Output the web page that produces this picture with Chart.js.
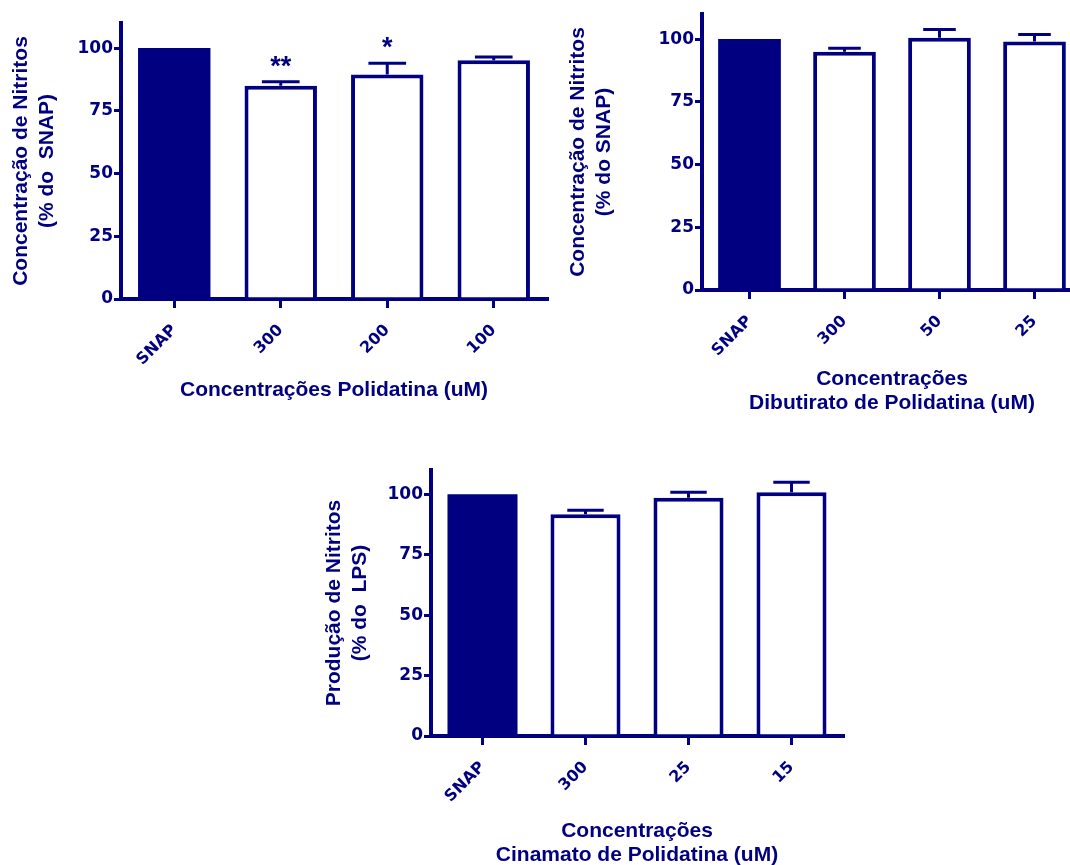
<!DOCTYPE html>
<html>
<head>
<meta charset="utf-8">
<script src="https://cdn.jsdelivr.net/npm/chart.js@4/dist/chart.umd.min.js"></script>
<style>
  html, body { margin: 0; padding: 0; background: #fff; }
  body { width: 1070px; height: 865px; position: relative; overflow: hidden; }
  canvas { position: absolute; }
  #c1 { left: 0; top: 0; }
  #c2 { left: 560px; top: 0; }
  #c3 { left: 300px; top: 440px; }
</style>
</head>
<body>
<canvas id="c1" width="560" height="420"></canvas>
<canvas id="c2" width="530" height="420"></canvas>
<canvas id="c3" width="560" height="430"></canvas>
<script>
// ===== data =====
const yTicks = [0, 25, 50, 75, 100];

const labels1 = ['SNAP', '300', '200', '100'];
const values1 = [100, 85, 89.5, 95.2];
const errors1 = [0, 1.6, 4.5, 1.2];
const stars1 = ['', '**', '*', ''];

const labels2 = ['SNAP', '300', '50', '25'];
const values2 = [100, 95, 100.5, 99];
const errors2 = [0, 1.3, 3.3, 2.8];

const labels3 = ['SNAP', '300', '25', '15'];
const values3 = [100, 91.7, 98.5, 100.8];
const errors3 = [0, 1.7, 2.3, 4.1];

// ===== style =====
const navy = '#000080';
const titleFont = '"Liberation Sans", Arial, sans-serif';
const tickFont = '"DejaVu Sans", "Liberation Sans", sans-serif';
Chart.defaults.font.family = titleFont;
Chart.defaults.font.weight = 'bold';
Chart.defaults.color = navy;

// error bars (upper only) + significance stars
const errorBars = {
  id: 'errorBars',
  afterDatasetsDraw(chart, args, opts) {
    const ctx = chart.ctx;
    const meta = chart.getDatasetMeta(0);
    const yScale = chart.scales.y;
    const vals = chart.data.datasets[0].data;
    ctx.save();
    ctx.strokeStyle = navy;
    ctx.lineWidth = 3;
    meta.data.forEach((bar, i) => {
      const err = opts.errors[i] || 0;
      const yTop = yScale.getPixelForValue(vals[i] + err);
      if (err > 0) {
        const half = bar.width * 0.26;
        ctx.beginPath();
        ctx.moveTo(bar.x, bar.y);
        ctx.lineTo(bar.x, yTop);
        ctx.moveTo(bar.x - half, yTop);
        ctx.lineTo(bar.x + half, yTop);
        ctx.stroke();
      }
      const s = opts.stars ? opts.stars[i] : '';
      if (s) {
        ctx.fillStyle = navy;
        ctx.font = 'bold 27px ' + titleFont;
        ctx.textAlign = 'center';
        ctx.textBaseline = 'alphabetic';
        ctx.fillText(s, bar.x, yTop - 7);
      }
    });
    ctx.restore();
  }
};

function makeChart(id, labels, values, errors, stars, g) {
  const fills = labels.map((l, i) => i === 0 ? navy : '#ffffff');
  const borders = labels.map((l, i) => i === 0 ? 0 : 4);
  return new Chart(document.getElementById(id), {
    type: 'bar',
    data: {
      labels: labels,
      datasets: [{
        data: values,
        backgroundColor: fills,
        borderColor: navy,
        borderWidth: borders,
        categoryPercentage: 1,
        barPercentage: g.barPct
      }]
    },
    options: {
      responsive: false,
      animation: false,
      layout: { padding: { top: g.top, right: g.right, left: 0, bottom: 0 } },
      plugins: {
        legend: { display: false },
        tooltip: { enabled: false },
        errorBars: { errors: errors, stars: stars }
      },
      scales: {
        x: {
          grid: { drawOnChartArea: false, offset: false, color: navy, lineWidth: 3, tickLength: 9 },
          border: { color: navy, width: 4 },
          ticks: { color: navy, font: { family: tickFont, size: 16, weight: 'bold' }, minRotation: 45, maxRotation: 45, padding: 13 },
          title: {
            display: true, text: g.xTitle, color: navy,
            font: { size: 21, weight: 'bold', lineHeight: 1.14 },
            padding: { top: 0, bottom: g.xPad }
          },
          afterFit(scale) { scale.height = g.xH; }
        },
        y: {
          min: 0,
          max: 110,
          afterBuildTicks(scale) { scale.ticks = yTicks.map(v => ({ value: v })); },
          grid: { drawOnChartArea: false, color: navy, lineWidth: 3, tickLength: 7 },
          border: { color: navy, width: 4 },
          ticks: { color: navy, font: { family: tickFont, size: 17, weight: 'bold' }, padding: 1 },
          title: {
            display: true, text: g.yTitle, color: navy,
            font: { size: 21, weight: 'bold', lineHeight: 1.24 },
            padding: { top: g.yPad, bottom: 0 }
          },
          afterFit(scale) { scale.width = g.yW; }
        }
      }
    },
    plugins: [errorBars]
  });
}

makeChart('c1', labels1, values1, errors1, stars1, {
  barPct: 0.68, top: 23, right: 13, xH: 121, yW: 121, xPad: 18, yPad: 8,
  xTitle: 'Concentrações Polidatina (uM)',
  yTitle: ['Concentração de Nitritos', '(% do  SNAP)']
});

makeChart('c2', labels2, values2, errors2, null, {
  barPct: 0.66, top: 14, right: 8, xH: 130, yW: 142, xPad: 5, yPad: 5,
  xTitle: ['Concentrações', 'Dibutirato de Polidatina (uM)'],
  yTitle: ['Concentração de Nitritos', '(% do SNAP)']
});

makeChart('c3', labels3, values3, errors3, null, {
  barPct: 0.68, top: 30, right: 17, xH: 134, yW: 131, xPad: 3, yPad: 21,
  xTitle: ['Concentrações', 'Cinamato de Polidatina (uM)'],
  yTitle: ['Produção de Nitritos', '(% do  LPS)']
});
</script>
</body>
</html>
